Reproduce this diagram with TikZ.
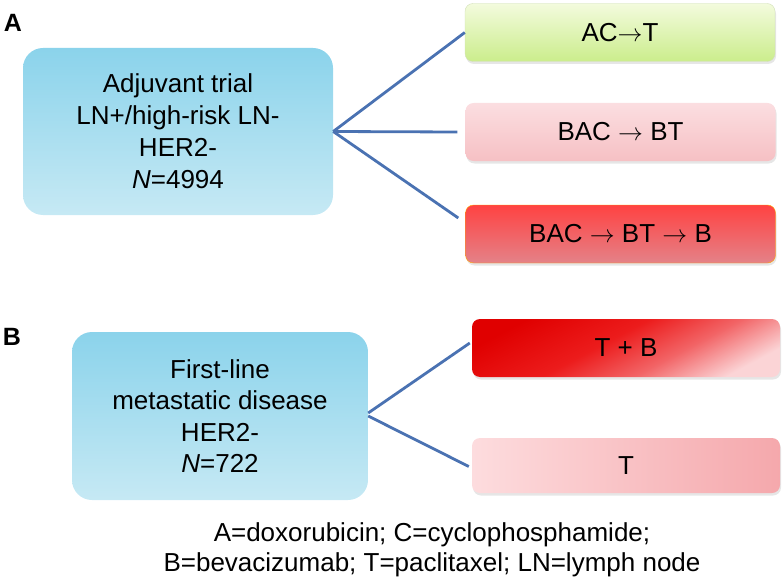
\documentclass[tikz,border=0pt]{standalone}
\usepackage{fontspec}
\setmainfont{Liberation Sans}
\usepackage{tikz}
\usetikzlibrary{shapes,arrows,positioning,fit,calc,shadows}

\definecolor{trialtop}{HTML}{8BD3EB}
\definecolor{trialbot}{HTML}{C6E9F4}
\definecolor{greentop}{HTML}{F3FBDD}
\definecolor{greenbot}{HTML}{CBED8C}
\definecolor{pinktop}{HTML}{FBDEE1}
\definecolor{pinkbot}{HTML}{F6C0C4}
\definecolor{redtop}{HTML}{FF4242}
\definecolor{redbot}{HTML}{E48288}
\definecolor{deepred}{HTML}{E00000}
\definecolor{midred}{HTML}{EC1C1C}
\definecolor{lightred}{HTML}{F26466}
\definecolor{palered}{HTML}{FBD4D6}
\definecolor{tleft}{HTML}{FDDCDE}
\definecolor{tright}{HTML}{F5A8AC}
\definecolor{linkblue}{HTML}{4A72B2}

\pgfdeclareverticalshading{tbshade}{100bp}{color(0bp)=(palered); color(25bp)=(palered); color(40bp)=(lightred); color(55bp)=(midred); color(75bp)=(deepred); color(100bp)=(deepred)}

\newcommand{\thento}{\ensuremath{\rightarrow}}

\begin{document}
\begin{tikzpicture}[x=1pt, y=-1pt,
    trial/.style={rectangle, rounded corners=20pt, minimum width=310pt, minimum height=167pt, align=center, top color=trialtop, bottom color=trialbot, font=\fontsize{26}{32}\selectfont},
    arm/.style={rectangle, rounded corners=8pt, minimum width=310pt, minimum height=58pt, font=\fontsize{26}{32}\selectfont, drop shadow={opacity=0.2, shadow xshift=1pt, shadow yshift=-2.5pt}},
    link/.style={draw=linkblue, line width=2.8pt},
    panel/.style={font=\fontsize{25}{25}\selectfont\bfseries}
]
    \useasboundingbox (0,0) rectangle (783,580);

    % Panel letters
    \node[panel] (pa) at (13,23) {A};
    \node[panel] (pb) at (12,337) {B};

    % Adjuvant trial
    \node[trial] (adj) at (178,131.5) {Adjuvant trial\\LN+/high-risk LN-\\HER2-\\\textit{N}=4994};
    \node[arm, top color=greentop, bottom color=greenbot, draw=greenbot!70!gray!60] (act) at (620,32.5) {AC\thento T};
    \node[arm, top color=pinktop, bottom color=pinkbot] (bac) at (620.5,132) {BAC \thento{} BT};
    \node[arm, top color=redtop, bottom color=redbot, draw=orange!70!yellow] (bacb) at (620.5,234) {BAC \thento{} BT \thento{} B};

    % Metastatic trial
    \node[trial, minimum width=296pt, minimum height=168pt, font=\fontsize{26}{31.5}\selectfont] (met) at (220,416) {First-line\\metastatic disease\\HER2-\\\textit{N}=722};
    \node[arm, minimum width=308pt, shading=tbshade, shading angle=28] (tb) at (626,348) {T + B};
    \node[arm, minimum width=308pt, minimum height=55pt, left color=tleft, right color=tright] (t) at (626,465.5) {T};

    % Connections
    \draw[link] (adj.east) -- (act.west);
    \draw[link] (adj.east) -- ([xshift=-8pt]bac.west);
    \draw[link] (adj.east) -- ([xshift=-7pt,yshift=16pt]bacb.west);

    \draw[link] ([yshift=3pt]met.east) -- ([xshift=-2pt,yshift=5pt]tb.west);
    \draw[link] (met.east) -- ([xshift=-3pt,yshift=-1pt]t.west);

    % Abbreviations
    \node[align=center, font=\fontsize{26}{30}\selectfont] (abbr) at (432,550) {A=doxorubicin; C=cyclophosphamide;\\B=bevacizumab; T=paclitaxel; LN=lymph node};
\end{tikzpicture}
\end{document}
